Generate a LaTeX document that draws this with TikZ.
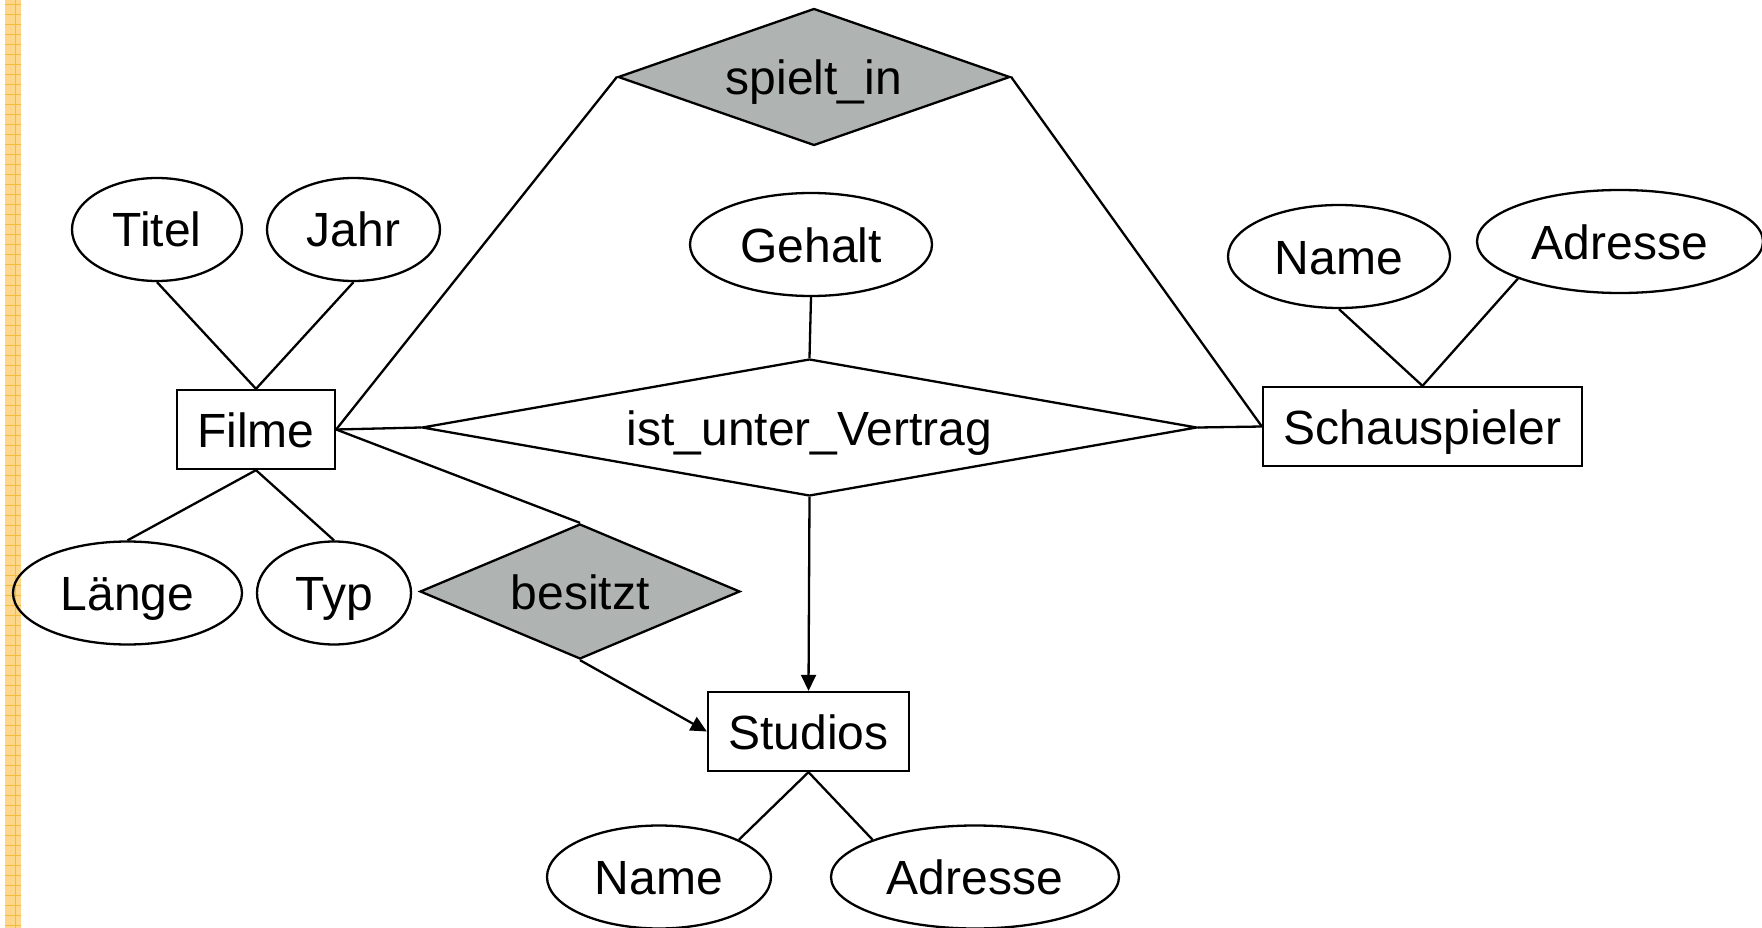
\documentclass[tikz,border=0pt]{standalone}
\usepackage{fontspec}
\setmainfont{Liberation Sans}
\usetikzlibrary{shapes.geometric,arrows.meta}
\definecolor{relgray}{RGB}{175,179,178}
\definecolor{stripe}{RGB}{252,215,140}
\definecolor{stripeline}{RGB}{247,186,60}
\begin{document}
\begin{tikzpicture}[x=1pt,y=-1pt, line width=2.3pt,
 every node/.style={font=\fontsize{48}{58}\selectfont, inner sep=0pt, text height=35pt, text depth=0pt},
 entity/.style={draw, rectangle, minimum height=79pt},
 attr/.style={draw, ellipse, minimum height=103pt},
 relbase/.style={draw, diamond, inner sep=0pt},
 rel/.style={relbase, fill=relgray},
 arr/.style={-{Triangle[length=16pt,width=15pt]}}]
\useasboundingbox (0,0) rectangle (1762,928);
% left stripe
\fill[stripe] (5,0) rectangle (21,928);
\foreach \yy in {5,15,...,925} \draw[stripeline, line width=1pt] (5,\yy) -- (21,\yy);
\draw[stripeline, line width=1pt] (15,0) -- (15,928);

% nodes
\node[rel, minimum width=392pt, minimum height=137pt, label=center:spielt\_in] (spielt) at (814,77) {};
\node[attr, minimum width=242pt] (gehalt) at (811,244.5) {Gehalt};
\node[relbase, minimum width=775pt, minimum height=137pt, label=center:ist\_unter\_Vertrag] (iuv) at (809.5,427.5) {};
\node[entity, minimum width=158pt] (filme) at (256,429.5) {Filme};
\node[attr, minimum width=170pt] (titel) at (157,229.5) {Titel};
\node[attr, minimum width=173pt] (jahr) at (353.5,229.5) {Jahr};
\node[attr, minimum width=229pt] (laenge) at (127.5,593) {Länge};
\node[attr, minimum width=154pt] (typ) at (334,593) {Typ};
\node[rel, minimum width=320pt, minimum height=135pt, label=center:besitzt] (besitzt) at (580,591.5) {};
\node[entity, minimum width=201pt] (studios) at (808.5,731.5) {Studios};
\node[attr, minimum width=224pt] (name2) at (659,877) {Name};
\node[attr, minimum width=288pt] (adr2) at (975,877) {Adresse};
\node[entity, minimum width=319pt] (schau) at (1422.5,426.5) {Schauspieler};
\node[attr, minimum width=222pt] (name1) at (1339,256.5) {Name};
\node[attr, minimum width=286pt] (adr1) at (1620,241.5) {Adresse};

% connectors
\draw (titel.south) -- (filme.north);
\draw (jahr.south) -- (filme.north);
\draw (filme.south) -- (laenge.north);
\draw (filme.south) -- (typ.north);
\draw (filme.east) -- (spielt.west);
\draw (filme.east) -- (iuv.west);
\draw (filme.east) -- (besitzt.north);
\draw[arr] (besitzt.south) -- (studios.west);
\draw[arr] (iuv.south) -- (studios.north);
\draw (gehalt.south) -- (iuv.north);
\draw (iuv.east) -- (schau.west);
\draw (spielt.east) -- (schau.west);
\draw (schau.north) -- (name1.south);
\draw (schau.north) -- (adr1.200);
\draw (studios.south) -- (name2.25);
\draw (studios.south) -- (adr2.160);
\end{tikzpicture}
\end{document}
